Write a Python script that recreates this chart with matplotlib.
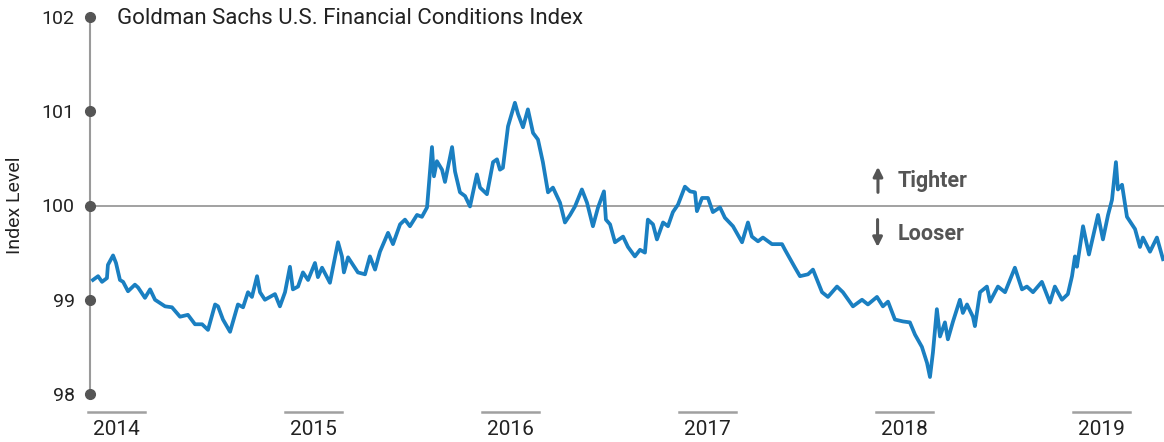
import matplotlib.pyplot as plt
import matplotlib.transforms as mtransforms

plt.rcParams['font.family'] = ['Roboto', 'DejaVu Sans']

# decimal years and index level
dates = [
    2014.015, 2014.041, 2014.061, 2014.086, 2014.091, 2014.117, 2014.132, 2014.152,
    2014.168, 2014.193, 2014.228, 2014.244, 2014.279, 2014.305, 2014.330, 2014.381,
    2014.416, 2014.457, 2014.497, 2014.533, 2014.569, 2014.599, 2014.635, 2014.650,
    2014.675, 2014.711, 2014.751, 2014.777, 2014.802, 2014.822, 2014.848, 2014.863,
    2014.888, 2014.939, 2014.964, 2014.990, 2015.015, 2015.030, 2015.056, 2015.081,
    2015.107, 2015.142, 2015.157, 2015.178, 2015.218, 2015.259, 2015.279, 2015.289,
    2015.310, 2015.360, 2015.396, 2015.421, 2015.447, 2015.472, 2015.513, 2015.538,
    2015.574, 2015.599, 2015.624, 2015.660, 2015.685, 2015.711, 2015.736, 2015.746,
    2015.761, 2015.787, 2015.802, 2015.838, 2015.853, 2015.878, 2015.904, 2015.929,
    2015.964, 2015.980, 2016.015, 2016.046, 2016.066, 2016.081, 2016.096, 2016.122,
    2016.157, 2016.173, 2016.198, 2016.223, 2016.249, 2016.274, 2016.299, 2016.325,
    2016.350, 2016.386, 2016.411, 2016.437, 2016.462, 2016.497, 2016.523, 2016.553,
    2016.579, 2016.609, 2016.619, 2016.640, 2016.665, 2016.706, 2016.731, 2016.766,
    2016.792, 2016.817, 2016.832, 2016.858, 2016.878, 2016.909, 2016.934, 2016.959,
    2016.985, 2017.020, 2017.046, 2017.071, 2017.081, 2017.107, 2017.137, 2017.162,
    2017.198, 2017.223, 2017.264, 2017.310, 2017.340, 2017.360, 2017.391, 2017.416,
    2017.462, 2017.513, 2017.528, 2017.579, 2017.604, 2017.645, 2017.670, 2017.716,
    2017.746, 2017.792, 2017.822, 2017.873, 2017.919, 2017.949, 2017.995, 2018.025,
    2018.051, 2018.086, 2018.127, 2018.162, 2018.188, 2018.223, 2018.249, 2018.264,
    2018.279, 2018.299, 2018.315, 2018.340, 2018.355, 2018.381, 2018.416, 2018.431,
    2018.452, 2018.482, 2018.492, 2018.518, 2018.553, 2018.569, 2018.609, 2018.645,
    2018.695, 2018.731, 2018.756, 2018.787, 2018.832, 2018.873, 2018.898, 2018.934,
    2018.964, 2018.985, 2019.000, 2019.010, 2019.041, 2019.071, 2019.117, 2019.142,
    2019.168, 2019.188, 2019.208, 2019.218, 2019.239, 2019.264, 2019.305, 2019.330,
    2019.345, 2019.381, 2019.416, 2019.447,
]
fci = [
    99.21, 99.25, 99.19, 99.23, 99.37, 99.47, 99.39, 99.21,
    99.19, 99.09, 99.16, 99.13, 99.02, 99.11, 99.00, 98.93,
    98.92, 98.82, 98.84, 98.74, 98.74, 98.68, 98.95, 98.93,
    98.79, 98.66, 98.95, 98.92, 99.08, 99.03, 99.25, 99.08,
    99.00, 99.06, 98.93, 99.08, 99.35, 99.11, 99.14, 99.29,
    99.21, 99.39, 99.24, 99.34, 99.18, 99.61, 99.46, 99.29,
    99.45, 99.29, 99.27, 99.46, 99.32, 99.51, 99.71, 99.59,
    99.80, 99.85, 99.78, 99.90, 99.88, 99.98, 100.62, 100.31,
    100.47, 100.38, 100.25, 100.62, 100.36, 100.14, 100.10, 99.99,
    100.33, 100.19, 100.12, 100.46, 100.49, 100.38, 100.40, 100.84,
    101.09, 100.97, 100.83, 101.02, 100.77, 100.70, 100.46, 100.14,
    100.19, 100.03, 99.82, 99.90, 99.99, 100.17, 100.03, 99.78,
    99.98, 100.15, 99.85, 99.80, 99.61, 99.67, 99.56, 99.46,
    99.53, 99.50, 99.85, 99.80, 99.64, 99.82, 99.78, 99.93,
    100.01, 100.20, 100.15, 100.14, 99.94, 100.08, 100.08, 99.93,
    99.98, 99.87, 99.78, 99.61, 99.82, 99.67, 99.62, 99.66,
    99.59, 99.59, 99.53, 99.34, 99.25, 99.27, 99.32, 99.08,
    99.03, 99.14, 99.08, 98.93, 99.00, 98.95, 99.03, 98.93,
    98.98, 98.79, 98.77, 98.76, 98.63, 98.50, 98.33, 98.18,
    98.44, 98.90, 98.61, 98.76, 98.58, 98.77, 99.00, 98.86,
    98.95, 98.82, 98.72, 99.08, 99.14, 98.98, 99.14, 99.08,
    99.34, 99.11, 99.14, 99.08, 99.19, 98.97, 99.14, 99.00,
    99.06, 99.25, 99.46, 99.35, 99.78, 99.48, 99.90, 99.64,
    99.90, 100.06, 100.46, 100.17, 100.22, 99.88, 99.75, 99.56,
    99.66, 99.51, 99.66, 99.43,
]
years = [2014, 2015, 2016, 2017, 2018, 2019]
y_ticks = [98, 99, 100, 101, 102]

fig = plt.figure(figsize=(11.64, 4.42), dpi=100)
ax = fig.add_axes([90 / 1164, 1 - 394 / 442, 1074 / 1164, 377 / 442])

ax.plot(dates, fci, color='#1a7fc1', linewidth=2.7, solid_joinstyle='round', zorder=3)
ax.axhline(100, color='#9a9a9a', linewidth=1.3, zorder=1)

ax.set_xlim(2014.0, 2019.452)
ax.set_ylim(98, 102)

# axis styling
for side in ['top', 'right', 'bottom']:
    ax.spines[side].set_visible(False)
ax.spines['left'].set_color('#9a9a9a')
ax.spines['left'].set_linewidth(1.5)

ax.set_yticks(y_ticks)
ax.set_yticklabels([str(v) for v in y_ticks], fontsize=14, color='#222222')
ax.tick_params(axis='y', length=0, pad=11)
ax.plot([2014.0] * len(y_ticks), y_ticks, 'o', color='#555555', markersize=7,
        clip_on=False, zorder=5)

# year labels with short bars under each one
ax.set_xticks([y + 0.135 for y in years])
ax.set_xticklabels([str(y) for y in years], fontsize=15, color='#222222')
ax.tick_params(axis='x', length=0, pad=19)
trans = mtransforms.blended_transform_factory(ax.transData, ax.transAxes)
for y in years:
    ax.plot([y - 0.01, y + 0.28], [-0.048, -0.048], color='#a0a0a0', linewidth=1.8,
            transform=trans, clip_on=False)

ax.set_ylabel('Index Level', fontsize=14, color='#222222')
ax.yaxis.set_label_coords(-0.061, 0.5)

ax.text(0.025, 0.995, 'Goldman Sachs U.S. Financial Conditions Index', transform=ax.transAxes,
        fontsize=16, color='#222222', va='center', ha='left')

# tighter / looser markers
ax.annotate('', xy=(2018.0, 100.44), xytext=(2018.0, 100.11),
            arrowprops=dict(arrowstyle='-|>', color='#555555', lw=2.2, mutation_scale=14))
ax.annotate('', xy=(2017.998, 99.53), xytext=(2017.998, 99.88),
            arrowprops=dict(arrowstyle='-|>', color='#555555', lw=2.2, mutation_scale=14))
ax.text(2018.10, 100.265, 'Tighter', fontsize=15.5, fontweight='bold', color='#555555',
        va='center', ha='left')
ax.text(2018.10, 99.70, 'Looser', fontsize=15.5, fontweight='bold', color='#555555',
        va='center', ha='left')

fig.savefig('out.png', dpi=100)
